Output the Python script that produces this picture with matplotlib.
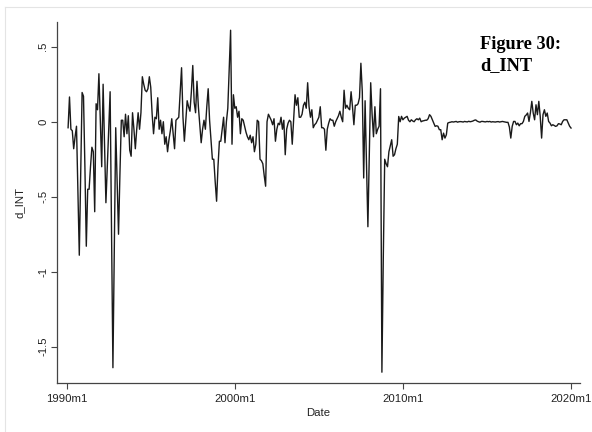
import numpy as np
import matplotlib
matplotlib.use("Agg")
import matplotlib.pyplot as plt
from matplotlib.lines import Line2D

# monthly first differences of INT, 1990m2 .. 2020m1
d_int_1990s = [
    -0.04, 0.165, -0.05, -0.06, -0.18, -0.1, -0.03, -0.45, -0.89, -0.35,
    0.195, 0.17, -0.3, -0.83, -0.45, -0.45, -0.3, -0.17, -0.2, -0.6,
    0.12, 0.08, 0.32, 0.0, -0.3, 0.25, -0.15, -0.54, -0.3, -0.05,
    0.2, -0.72, -1.64, -0.84, -0.04, -0.4, -0.75, -0.35, 0.01, 0.01,
    -0.1, 0.05, -0.08, 0.04, -0.19, -0.23, 0.06, -0.05, -0.18, -0.05,
    0.06, -0.05, 0.06, 0.3, 0.25, 0.21, 0.2, 0.22, 0.3, 0.23,
    0.05, -0.08, 0.03, 0.02, 0.16, -0.05, 0.01, -0.08, 0.0, -0.15,
    -0.1, -0.2, -0.12, -0.06, 0.02, -0.08, -0.18, 0.01, 0.02, 0.03,
    0.2, 0.36, 0.03, -0.13, 0.0, 0.14, 0.1, 0.07, 0.2, 0.375,
    0.13, 0.06, 0.27, 0.1, -0.02, -0.14, -0.05, 0.01, -0.05, 0.1,
    0.22, 0.01, -0.12, -0.25, -0.25, -0.4, -0.53, -0.3, -0.13, -0.13,
    -0.05, 0.03, -0.14, 0.0, 0.09, 0.35, 0.61, -0.15, 0.18,
]
d_int_2000s = [
    0.09,
    0.1, 0.03, 0.07, -0.08, 0.02, 0.01, -0.03, -0.07, -0.1, -0.12,
    -0.09, -0.14, -0.1, -0.2, -0.15, 0.01, 0.0, -0.25, -0.26, -0.28,
    -0.36, -0.43, 0.0, 0.05, 0.03, 0.01, -0.02, 0.02, -0.13, -0.05,
    -0.01, -0.02, 0.03, -0.05, 0.01, -0.22, -0.05, -0.01, 0.01, 0.0,
    -0.15, 0.02, 0.18, 0.11, 0.16, 0.03, 0.03, 0.05, 0.11, 0.13,
    0.09, 0.26, 0.1, 0.03, 0.08, -0.04, -0.02, -0.01, 0.01, 0.03,
    0.1, -0.04, -0.04, -0.05, -0.19, -0.05, -0.01, 0.02, 0.01, 0.01,
    -0.03, 0.0, 0.02, 0.04, 0.07, 0.03, 0.0, 0.21, 0.09, 0.11,
    0.09, 0.08, 0.2, 0.1, -0.02, 0.11, 0.11, 0.12, 0.16, 0.39,
    0.2, -0.375, 0.14, -0.28, -0.7, -0.22, 0.26, 0.05, -0.1, 0.1,
    -0.08, -0.05, -0.03, 0.22, -1.67, -0.9, -0.25, -0.28, -0.3, -0.2,
    -0.16, -0.12, -0.23, -0.22, -0.18, -0.15, 0.035, 0.0, 0.036,
]
d_int_2010s = [
    0.013,
    0.024, 0.03, 0.036, 0.01, 0.0, 0.013, 0.005, 0.0, 0.013, 0.02,
    0.013, 0.024, 0.0, 0.005, 0.007, 0.01, 0.01, 0.02, 0.047, 0.036,
    0.013, -0.009, -0.031, -0.027, -0.03, -0.053, -0.053, -0.12, -0.076, -0.109,
    -0.087, -0.009, -0.005, -0.003, 0.0, -0.002, 0.0, 0.002, -0.003, 0.0,
    0.001, 0.0, -0.002, 0.002, 0.0, -0.001, 0.003, 0.0, 0.002, 0.005,
    0.01, 0.012, 0.004, 0.0, -0.003, 0.002, 0.002, 0.0, -0.001, 0.002,
    0.0, 0.002, -0.002, 0.0, -0.001, -0.002, 0.0, 0.001, -0.002, 0.0,
    0.002, 0.0, -0.002, -0.004, -0.004, -0.036, -0.109, -0.031, 0.002, 0.002,
    -0.02, -0.009, -0.027, -0.013, -0.013, 0.002, 0.036, 0.045, 0.058, 0.002,
    0.06, 0.136, 0.058, 0.013, 0.113, 0.047, 0.136, 0.036, -0.109, 0.047,
    0.08, 0.036, 0.058, 0.002, -0.009, -0.027, -0.02, -0.025, -0.031, -0.027,
    -0.013, -0.015, -0.02, 0.002, 0.013, 0.013, 0.013, -0.009, -0.03, -0.042,
]

first_month = 1  # months after 1990m1
x_tick_months = [0, 120, 240, 360]
x_tick_labels = ["1990m1", "2000m1", "2010m1", "2020m1"]
y_ticks = [0.5, 0.0, -0.5, -1.0, -1.5]
y_tick_labels = [".5", "0", "-.5", "-1", "-1.5"]

values = np.array(d_int_1990s + d_int_2000s + d_int_2010s)
months = np.arange(first_month, first_month + len(values))

fig = plt.figure(figsize=(5.92, 4.32), dpi=100)
fig.patch.set_facecolor("white")
left, right, top, bottom = 57.3, 580.0, 21.7, 383.3
ax = fig.add_axes([left / 592, 1 - bottom / 432, (right - left) / 592, (bottom - top) / 432])

ax.plot(months, values, color="#1a1a1a", lw=1.0)

ax.set_xlim(-6.7, 366.4)
ax.set_ylim(-1.744, 0.667)
ax.set_xticks(x_tick_months)
ax.set_xticklabels(x_tick_labels)
ax.set_yticks(y_ticks)
ax.set_yticklabels(y_tick_labels, rotation=90, va="center")

for spine in ["top", "right"]:
    ax.spines[spine].set_visible(False)
for spine in ["left", "bottom"]:
    ax.spines[spine].set_color("#444444")
    ax.spines[spine].set_linewidth(0.9)

ax.tick_params(direction="out", length=4.0, width=0.8, color="#444444",
               labelsize=8.2, labelcolor="#222222", pad=2.5)
ax.tick_params(axis="x", pad=3.5)
for lab in ax.get_xticklabels() + ax.get_yticklabels():
    lab.set_fontfamily("Liberation Sans")

ax.set_xlabel("Date", fontsize=8.2, family="Liberation Sans", color="#222222", labelpad=3)
ax.set_ylabel("d_INT", fontsize=8.2, family="Liberation Sans", color="#222222", labelpad=10)

fig.text(480 / 592, 1 - 36 / 432, "Figure 30:\nd_INT", family="Liberation Serif",
         fontweight="bold", fontsize=13.2, va="top", ha="left", linespacing=1.3)

# faint outer frame of the graph region
fig.add_artist(Line2D([5 / 592, 5 / 592], [0, 1 - 7 / 432], transform=fig.transFigure,
                      color="#e4e4e4", lw=0.8))
fig.add_artist(Line2D([5 / 592, 1], [1 - 7 / 432, 1 - 7 / 432], transform=fig.transFigure,
                      color="#e4e4e4", lw=0.8))

fig.savefig("out.png", dpi=100, facecolor="white")
